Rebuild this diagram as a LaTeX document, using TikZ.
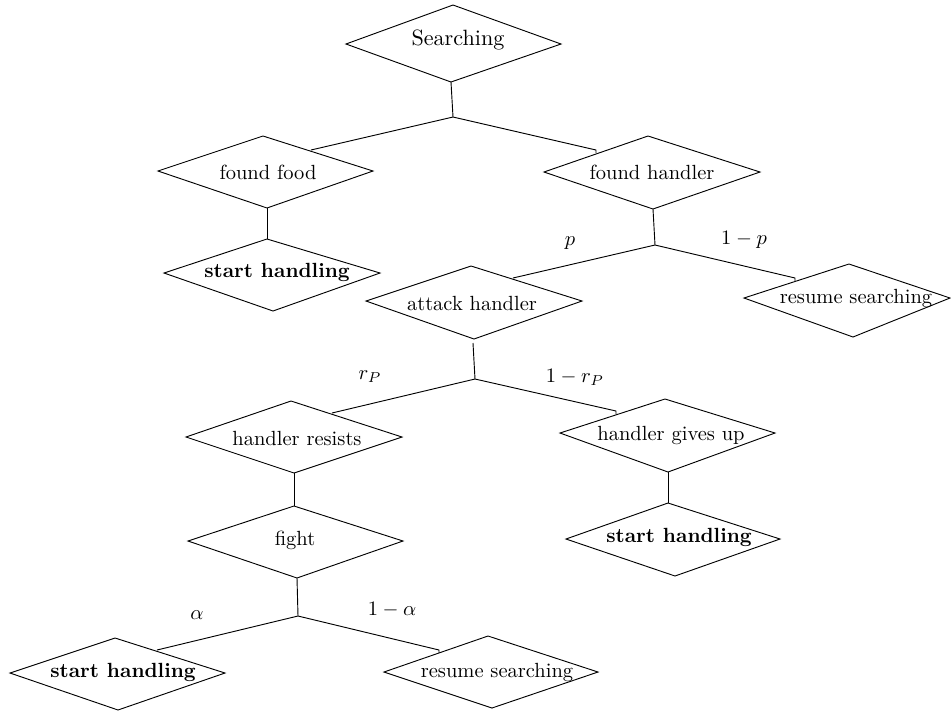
\documentclass[tikz,border=0pt]{standalone}
\usepackage{amsmath}
\newcommand\DiaBox[8]{%
  \coordinate (#1-t) at (#2,#3);
  \coordinate (#1-l) at (#4,#5);
  \coordinate (#1-r) at (#6,#5);
  \coordinate (#1-b) at (#7,#8);
  \draw[diaedge] (#1-t) -- (#1-r) -- (#1-b) -- (#1-l) -- cycle;}
\begin{document}
\begin{tikzpicture}[x=0.4878pt,y=-0.4878pt,
  diaedge/.style={draw=black,line width=0.45pt,line join=miter},
  conn/.style={draw=black,line width=0.45pt},
  txt/.style={inner sep=0pt,font=\normalsize},
  bold/.style={inner sep=0pt,font=\normalsize\bfseries},
  prob/.style={inner sep=0pt}]
\useasboundingbox (0,0) rectangle (951,711);
% diamonds
\DiaBox{ss}{453}{5}{346}{44}{561}{451}{82}
\DiaBox{ff}{263}{136}{158}{171}{373}{267}{208}
\DiaBox{fh}{648}{136}{544}{172}{760}{653}{209}
\DiaBox{sa}{267}{239}{164}{273}{380}{273}{311}
\DiaBox{ah}{471}{266}{366}{301}{582}{474}{339}
\DiaBox{ra}{849}{264}{744}{298}{950}{853}{337}
\DiaBox{hr}{291}{401}{186}{437}{402}{294}{473}
\DiaBox{hg}{665}{399}{560}{433}{775}{668}{472}
\DiaBox{fi}{294}{506}{188}{541}{403}{297}{578}
\DiaBox{sb}{668}{503}{566}{539}{780}{675}{576}
\DiaBox{sc}{115}{638}{10}{673}{225}{118}{710}
\DiaBox{rb}{488}{636}{384}{672}{598}{492}{708}
% texts
\node[txt,font=\fontsize{10.8}{13}\selectfont] (ss) at (458,40) {Searching};
\node[txt] (ff) at (268,172) {found food};
\node[txt] (fh) at (652,172) {found handler};
\node[bold] (sa) at (277,272) {start handling};
\node[txt] (ah) at (472,303) {attack handler};
\node[txt] (ra) at (856,298) {resume searching};
\node[txt] (hr) at (297,438) {handler resists};
\node[txt] (hg) at (671,435) {handler gives up};
\node[txt] (fi) at (295,540) {fight};
\node[bold] (sb) at (679,537) {start handling};
\node[bold] (sc) at (123,672) {start handling};
\node[txt] (rb) at (497,672) {resume searching};
% junctions and branch ends
\coordinate (j1) at (453,117);
\coordinate (j2) at (655,245);
\coordinate (j3) at (475,379);
\coordinate (j4) at (298,616);
\coordinate (ah-s) at (473,343);
\coordinate (ff-e) at (311,150);
\coordinate (fh-e) at (596,150);
\coordinate (ah-e) at (513,278);
\coordinate (ra-e) at (795,278);
\coordinate (hr-e) at (332,413);
\coordinate (hg-e) at (616,411);
\coordinate (sc-e) at (157,650);
\coordinate (rb-e) at (439,650);
% connectors
\draw[conn] (ss-b) -- (j1);
\draw[conn] (j1) -- (ff-e);
\draw[conn] (j1) -- (fh-e) -- ++(0,3);
\draw[conn] (ff-b) -- (sa-t);
\draw[conn] (fh-b) -- (j2);
\draw[conn] (j2) -- (ah-e);
\draw[conn] (j2) -- (ra-e) -- ++(0,3);
\draw[conn] (ah-s) -- (j3);
\draw[conn] (j3) -- (hr-e);
\draw[conn] (j3) -- (hg-e) -- ++(0,3);
\draw[conn] (hr-b) -- (fi-t);
\draw[conn] (hg-b) -- (sb-t);
\draw[conn] (fi-b) -- (j4);
\draw[conn] (j4) -- (sc-e);
\draw[conn] (j4) -- (rb-e) -- ++(0,3);
% probability labels
\node[prob] (lp) at (570,243) {$p$};
\node[prob] (lq) at (744,240) {$1-p$};
\node[prob] (lr) at (370,377) {$r_P$};
\node[prob] (ls) at (575,377) {$1-r_P$};
\node[prob] (la) at (197,615) {$\alpha$};
\node[prob] (lb) at (392,610) {$1-\alpha$};
\end{tikzpicture}
\end{document}
